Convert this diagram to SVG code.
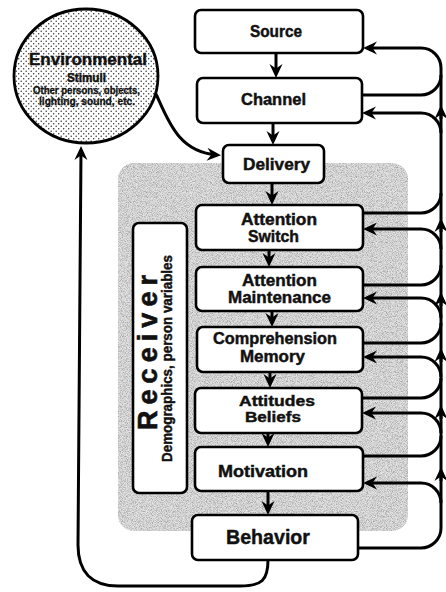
<svg xmlns="http://www.w3.org/2000/svg" width="446" height="592" viewBox="0 0 446 592">
  <defs>
    <style>
      .box { fill: #ffffff; stroke: #000000; stroke-width: 2.6; }
      .lbl { font-family: "Liberation Sans", Arial, sans-serif; font-weight: 700; font-size: 16px; fill: #111111; stroke: #111111; stroke-width: 0.45; text-anchor: middle; }
      .con { fill: none; stroke: #000000; stroke-width: 3; stroke-linecap: butt; }
      .arr { marker-end: url(#ah); }
    </style>
    <!-- stealth-style arrowhead; tip sits 4px beyond the path end -->
    <marker id="ah" viewBox="-15 -8 16 16" refX="-4" refY="0" markerWidth="16" markerHeight="16" markerUnits="userSpaceOnUse" orient="auto">
      <path d="M0,0 L-14,-6.5 L-9.5,0 L-14,6.5 Z" fill="#000000"/>
    </marker>
    <!-- halftone dots for the stimuli circle -->
    <pattern id="dots" width="5" height="5" patternUnits="userSpaceOnUse">
      <rect width="5" height="5" fill="#ffffff"/>
      <circle cx="1.2" cy="1.2" r="0.75" fill="#333333"/>
      <circle cx="3.7" cy="3.7" r="0.75" fill="#333333"/>
    </pattern>
    <!-- grainy grey speckle for the receiver area -->
    <filter id="grain" x="0" y="0" width="1" height="1">
      <feTurbulence type="fractalNoise" baseFrequency="1.2" numOctaves="1" seed="7" result="n"/>
      <feColorMatrix in="n" type="matrix" values="0 0 0 0 0.35  0 0 0 0 0.35  0 0 0 0 0.35  2.6 0 0 0 -1.0" result="speck"/>
      <feComposite in="speck" in2="SourceGraphic" operator="in" result="clip"/>
      <feMerge>
        <feMergeNode in="SourceGraphic"/>
        <feMergeNode in="clip"/>
      </feMerge>
    </filter>
  </defs>

  <rect width="446" height="592" fill="#ffffff"/>

  <!-- shaded receiver zone -->
  <g id="receiver-zone">
    <rect x="118" y="163" width="290" height="368" rx="16" fill="#e2e2e2" filter="url(#grain)"/>
  </g>

  <!-- environmental stimuli -->
  <g id="stimuli">
    <ellipse cx="86" cy="76" rx="72" ry="67" fill="url(#dots)" stroke="#000000" stroke-width="2.8"/>
    <text class="lbl" x="88" y="65" style="font-size:17px" textLength="118" lengthAdjust="spacingAndGlyphs">Environmental</text>
    <text class="lbl" x="86.5" y="82" style="font-size:12px" textLength="39" lengthAdjust="spacingAndGlyphs">Stimuli</text>
    <text class="lbl" x="86.5" y="94" style="font-size:10.5px;stroke-width:0.3" textLength="107" lengthAdjust="spacingAndGlyphs">Other persons, objects,</text>
    <text class="lbl" x="87" y="105" style="font-size:10.5px;stroke-width:0.3" textLength="96" lengthAdjust="spacingAndGlyphs">lighting, sound, etc.</text>
  </g>

  <!-- connectors -->
  <g id="connectors">
    <!-- main chain -->
    <path class="con arr" d="M276,53 V74"/>
    <path class="con arr" d="M273,123 V141"/>
    <path class="con arr" d="M272,183 V201"/>
    <path class="con arr" d="M269,250 V263"/>
    <path class="con arr" d="M272,311 V323"/>
    <path class="con arr" d="M270,372 V384"/>
    <path class="con arr" d="M268,433 V443"/>
    <path class="con arr" d="M268,491 V511"/>

    <!-- stimuli into delivery -->
    <path class="con arr" d="M156,94 C168,120 178,152 217,155"/>
    <!-- behavior back to stimuli -->
    <path class="con arr" d="M268,560 C268,580 262,586 240,586 H118 C92,586 78,572 78,545 L81,150"/>

    <!-- feedback trunk -->
    <path class="con" d="M441,528 V68"/>
    <path class="con arr" d="M441,119 V109"/>
    <path class="con arr" d="M441,232 V222"/>
    <path class="con arr" d="M441,306 V296"/>
    <path class="con arr" d="M441,362 V352"/>
    <path class="con arr" d="M441,419 V409"/>
    <path class="con arr" d="M441,481 V471"/>

    <!-- outgoing branches into the trunk -->
    <path class="con" d="M362,95 H421 A20,20 0 0 0 441,75"/>
    <path class="con" d="M363,213 H421 A20,20 0 0 0 441,193"/>
    <path class="con" d="M363,285 H421 A20,20 0 0 0 441,265"/>
    <path class="con" d="M363,343 H421 A20,20 0 0 0 441,323"/>
    <path class="con" d="M362,398 H421 A20,20 0 0 0 441,378"/>
    <path class="con" d="M363,456 H421 A20,20 0 0 0 441,436"/>
    <path class="con" d="M358,548 H421 A20,20 0 0 0 441,528"/>

    <!-- incoming branches from the trunk -->
    <path class="con arr" d="M441,68 A20,20 0 0 0 421,48 H367"/>
    <path class="con arr" d="M441,133 A20,20 0 0 0 421,113 H366"/>
    <path class="con arr" d="M441,249 A20,20 0 0 0 421,229 H367"/>
    <path class="con arr" d="M441,318 A20,20 0 0 0 421,298 H367"/>
    <path class="con arr" d="M441,377 A20,20 0 0 0 421,357 H367"/>
    <path class="con arr" d="M441,433 A20,20 0 0 0 421,413 H366"/>
    <path class="con arr" d="M441,503 A20,20 0 0 0 421,483 H367"/>
  </g>

  <!-- receiver -->
  <g id="receiver">
    <rect class="box" x="133" y="223" width="54" height="270" rx="6"/>
    <text class="lbl" transform="translate(157,352.5) rotate(-90)" style="font-size:27px;stroke-width:0.6" textLength="155" lengthAdjust="spacing">Receiver</text>
    <text class="lbl" transform="translate(172,358.5) rotate(-90)" style="font-size:14px" textLength="207" lengthAdjust="spacingAndGlyphs">Demographics, person variables</text>
  </g>

  <g id="source">
    <rect class="box" x="195" y="10" width="168" height="43" rx="6"/>
    <text class="lbl" x="276" y="37" textLength="52" lengthAdjust="spacingAndGlyphs">Source</text>
  </g>
  <g id="channel">
    <rect class="box" x="197" y="78" width="165" height="45" rx="6"/>
    <text class="lbl" x="273.5" y="105" textLength="65" lengthAdjust="spacingAndGlyphs">Channel</text>
  </g>
  <g id="delivery">
    <rect class="box" x="223" y="145" width="101" height="38" rx="6"/>
    <text class="lbl" x="276.5" y="170" textLength="67" lengthAdjust="spacingAndGlyphs">Delivery</text>
  </g>
  <g id="attention-switch">
    <rect class="box" x="196" y="205" width="167" height="45" rx="6"/>
    <text class="lbl" x="279" y="225" textLength="76" lengthAdjust="spacingAndGlyphs">Attention</text>
    <text class="lbl" x="273.5" y="242" textLength="51" lengthAdjust="spacingAndGlyphs">Switch</text>
  </g>
  <g id="attention-maintenance">
    <rect class="box" x="196" y="267" width="167" height="44" rx="6"/>
    <text class="lbl" x="279.5" y="286" textLength="75" lengthAdjust="spacingAndGlyphs">Attention</text>
    <text class="lbl" x="279.5" y="303" textLength="103" lengthAdjust="spacingAndGlyphs">Maintenance</text>
  </g>
  <g id="comprehension-memory">
    <rect class="box" x="197" y="327" width="166" height="45" rx="6"/>
    <text class="lbl" x="275" y="344" textLength="124" lengthAdjust="spacingAndGlyphs">Comprehension</text>
    <text class="lbl" x="272.5" y="362" textLength="65" lengthAdjust="spacingAndGlyphs">Memory</text>
  </g>
  <g id="attitudes-beliefs">
    <rect class="box" x="195" y="388" width="167" height="45" rx="6"/>
    <text class="lbl" x="277" y="406" style="font-size:15px" textLength="76" lengthAdjust="spacingAndGlyphs">Attitudes</text>
    <text class="lbl" x="273" y="422" style="font-size:15px" textLength="56" lengthAdjust="spacingAndGlyphs">Beliefs</text>
  </g>
  <g id="motivation">
    <rect class="box" x="195" y="447" width="168" height="44" rx="6"/>
    <text class="lbl" x="263" y="477" textLength="90" lengthAdjust="spacingAndGlyphs">Motivation</text>
  </g>
  <g id="behavior">
    <rect class="box" x="192" y="515" width="166" height="45" rx="6"/>
    <text class="lbl" x="268" y="544" style="font-size:21px" textLength="84" lengthAdjust="spacingAndGlyphs">Behavior</text>
  </g>
</svg>
